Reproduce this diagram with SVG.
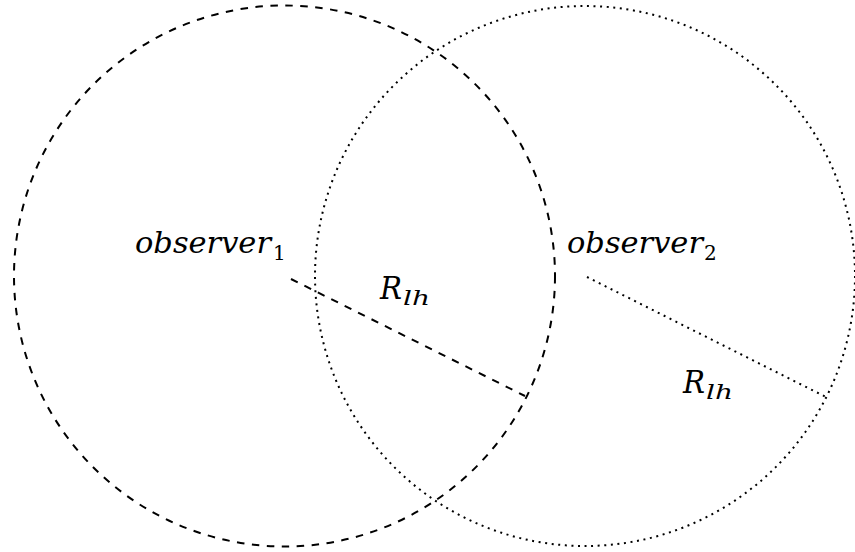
<svg xmlns="http://www.w3.org/2000/svg" width="855" height="552" viewBox="0 0 855 552">
<style>
.dash{fill:none;stroke:#000;stroke-width:2;stroke-dasharray:7.5 7.5}
.dot{fill:none;stroke:#000;stroke-width:2;stroke-dasharray:2 4.6}
text{font-family:'DejaVu Serif',serif;fill:#000}
.lbl{font-style:italic;font-size:29px}
.big{font-style:italic;font-size:31px}
.sub{font-size:20px}
.subi{font-style:italic;font-size:20px}
</style>
<rect width="855" height="552" fill="#fff"/>
<g id="observer1">
<circle class="dash" cx="284.5" cy="276" r="270.5"/>
<text class="lbl" x="135" y="253" textLength="136" lengthAdjust="spacingAndGlyphs">observer</text>
<text class="sub" x="273" y="260">1</text>
</g>
<g id="observer2">
<circle class="dot" cx="585" cy="276" r="270"/>
<text class="lbl" x="567" y="253" textLength="136" lengthAdjust="spacingAndGlyphs">observer</text>
<text class="sub" x="704" y="260">2</text>
</g>
<g id="connectors">
<line class="dash" x1="291" y1="279" x2="525" y2="396"/>
<line class="dot" x1="587" y1="277" x2="826" y2="397"/>
</g>
<g id="labels">
<text class="big" x="380" y="299" textLength="22" lengthAdjust="spacingAndGlyphs">R</text>
<text class="subi" x="403" y="305" textLength="27" lengthAdjust="spacingAndGlyphs">lh</text>
<text class="big" x="683" y="393" textLength="22" lengthAdjust="spacingAndGlyphs">R</text>
<text class="subi" x="706" y="399" textLength="27" lengthAdjust="spacingAndGlyphs">lh</text>
</g>
</svg>
